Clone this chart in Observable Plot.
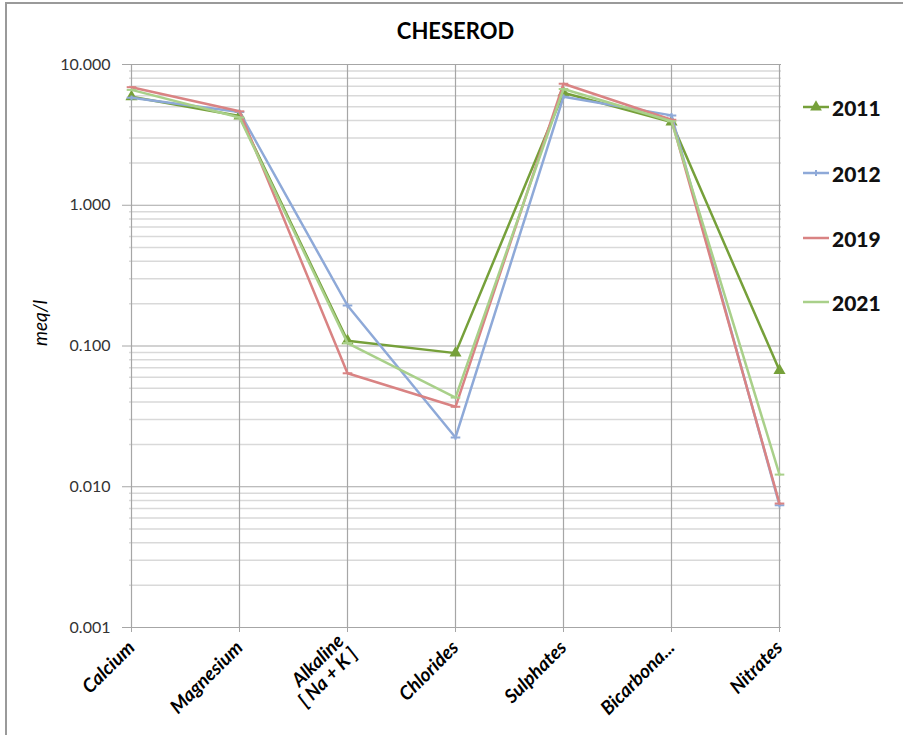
<!DOCTYPE html>
<html>
<head>
<meta charset="utf-8">
<script src="https://cdn.jsdelivr.net/npm/d3@7"></script>
<script src="https://cdn.jsdelivr.net/npm/@observablehq/plot@0.6"></script>
<style>
  body { margin: 0; background: #fff; }
  #chart { position: relative; width: 903px; height: 735px; overflow: hidden; font-family: Lato, "Open Sans", sans-serif; }
  #border { position: absolute; left: 5px; top: 2px; width: 920px; height: 760px; border-top: 2px solid #9a9a9a; border-left: 2px solid #9a9a9a; box-sizing: border-box; }
  #legend { position: absolute; left: 802px; top: 0; }
  .item { position: absolute; left: 0; display: flex; align-items: center; white-space: nowrap; }
  .item span { font-weight: 900; font-size: 21px; color: #111; margin-left: 2px; }
</style>
</head>
<body>
<div id="chart"><div id="border"></div><div id="legend"></div></div>
<script>
// Ion categories (x axis) and their printed labels
const ions = ["Calcium", "Magnesium", "Alkaline", "Chlorides", "Sulphates", "Bicarbonates", "Nitrates"];
const ionLabels = ["Calcium", "Magnesium", "Alkaline\n[ Na + K ]", "Chlorides", "Sulphates", "Bicarbona...", "Nitrates"];

// Concentrations in meq/l per sampling year
const years = ["2011", "2012", "2019", "2021"];
const v2011 = [5.9, 4.3, 0.109, 0.089, 6.3, 3.9, 0.067];
const v2012 = [5.8, 4.6, 0.194, 0.0224, 5.9, 4.35, 0.0074];
const v2019 = [6.9, 4.65, 0.064, 0.037, 7.3, 4.05, 0.0076];
const v2021 = [6.6, 4.2, 0.105, 0.043, 6.7, 3.95, 0.0122];

// Y axis decade labels
const yTicks = [0.001, 0.01, 0.1, 1, 10];

const colors = ["#76a03a", "#8ea9d8", "#d98383", "#a9d08a"];

// Custom short horizontal dash marker
const dash = {draw(ctx, size) { const r = Math.sqrt(size / Math.PI) * 1.6; ctx.moveTo(-r, 0); ctx.lineTo(r, 0); }};
const plusMark = {draw(ctx, size) { const r = Math.sqrt(size / Math.PI) * 1.6; ctx.moveTo(-r, 0); ctx.lineTo(r, 0); ctx.moveTo(0, -r * 0.5); ctx.lineTo(0, r * 0.5); }};
const markers = ["triangle", plusMark, dash, dash];

const series = [v2011, v2012, v2019, v2021];
const rows = series.flatMap((vals, s) => vals.map((v, i) => ({year: years[s], ion: ions[i], value: v})));

// Minor gridlines at 2..9 within each decade
const minor = yTicks.slice(0, -1).flatMap(k => d3.range(2, 10).map(m => k * m));

const lineMarks = years.flatMap((yr, s) => {
  const d = rows.filter(r => r.year === yr);
  const out = [Plot.line(d, {x: "ion", y: "value", stroke: colors[s], strokeWidth: 2.5})];
  if (s === 0) out.push(Plot.dot(d, {x: "ion", y: "value", symbol: "triangle", fill: colors[s], r: 4.5}));
  else out.push(Plot.dot(d, {x: "ion", y: "value", symbol: markers[s], stroke: colors[s], strokeWidth: 2, r: 3}));
  return out;
});

const chart = Plot.plot({
  width: 903,
  height: 735,
  marginTop: 64,
  marginLeft: 129,
  marginRight: 122,
  marginBottom: 108,
  style: {fontFamily: "Lato, 'Open Sans', sans-serif", background: "transparent", overflow: "visible"},
  x: {type: "point", domain: ions, padding: 0},
  y: {type: "log", domain: [0.001, 10]},
  marks: [
    Plot.ruleY(minor, {stroke: "#d9d9d9", strokeWidth: 1.5}),
    Plot.ruleY(yTicks, {stroke: "#a6a6a6", strokeWidth: 1.2}),
    Plot.ruleX(ions, {stroke: "#a6a6a6", strokeWidth: 1.2}),
    Plot.axisY({ticks: yTicks, tickFormat: d3.format(".3f"), tickSize: 7, tickPadding: 12, fontSize: 16, fill: "#333", stroke: "#a6a6a6", label: null}),
    Plot.axisX({tickSize: 5, tickRotate: -45, tickPadding: 12, fontSize: 19, fontWeight: "bold", fontStyle: "italic", fill: "#000", stroke: "#a6a6a6", tickFormat: (d, i) => ionLabels[i], label: null}),
    ...lineMarks,
    Plot.text(["CHESEROD"], {frameAnchor: "top", lineAnchor: "middle", dy: -33, fontSize: 22, fontWeight: "bold", fill: "#000"}),
    Plot.text(["meq/l"], {frameAnchor: "left", dx: -89, rotate: -90, fontSize: 19, fontStyle: "italic", fill: "#000"})
  ]
});
document.getElementById("chart").appendChild(chart);

// Legend entries on the right
const legendTops = [107, 173, 238, 302];
const legend = d3.select("#legend");
years.forEach((yr, s) => {
  const item = legend.append("div").attr("class", "item").style("top", (legendTops[s] - 13) + "px");
  const svg = item.append("svg").attr("width", 28).attr("height", 26);
  svg.append("line").attr("x1", 1).attr("x2", 27).attr("y1", 13).attr("y2", 13).attr("stroke", colors[s]).attr("stroke-width", 2.5);
  if (s === 0) svg.append("path").attr("d", d3.symbol(d3.symbolTriangle, 60)()).attr("transform", "translate(14,13)").attr("fill", colors[s]);
  else if (s === 1) svg.append("path").attr("d", "M14,10V16").attr("stroke", colors[s]).attr("stroke-width", 2);
  item.append("span").text(yr);
});
</script>
</body>
</html>
